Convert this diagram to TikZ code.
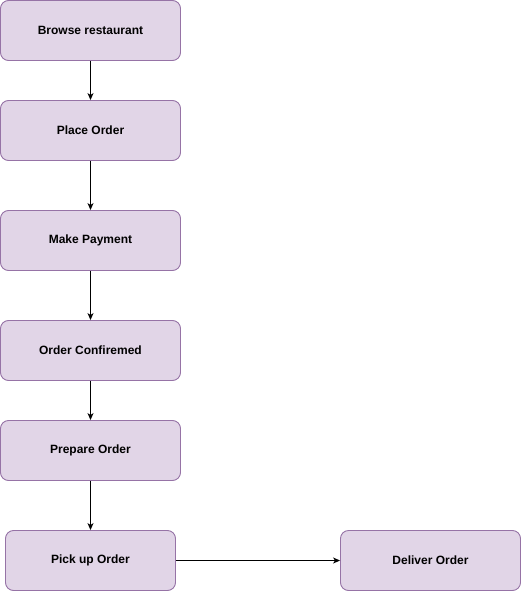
\documentclass[tikz,border=0pt]{standalone}
\usepackage{fontspec}
\setmainfont{Liberation Sans}
\usetikzlibrary{arrows.meta}
\begin{document}
\begin{tikzpicture}[x=1pt,y=-1pt,
  stepbox/.style={draw=boxline,fill=boxfill,line width=0.9pt,rounded corners=8pt,
    minimum height=60pt,inner sep=0pt,font=\bfseries\fontsize{12pt}{14pt}\selectfont},
  flow/.style={draw=black,line width=0.9pt,-{Stealth[length=7pt,width=6pt,inset=2pt]}}]
\definecolor{boxfill}{HTML}{E1D5E7}
\definecolor{boxline}{HTML}{9673A6}
\useasboundingbox (0,0) rectangle (521,591);
\node[stepbox,minimum width=180pt] (browse) at (90.5,30.5) {Browse restaurant};
\node[stepbox,minimum width=180pt] (place) at (90.5,130.5) {Place Order};
\node[stepbox,minimum width=180pt] (pay) at (90.5,240.5) {Make Payment};
\node[stepbox,minimum width=180pt] (confirm) at (90.5,350.5) {Order Confiremed};
\node[stepbox,minimum width=180pt] (prepare) at (90.5,450.5) {Prepare Order};
\node[stepbox,minimum width=170pt] (pickup) at (90.5,560.5) {Pick up Order};
\node[stepbox,minimum width=180pt] (deliver) at (430.5,560.5) {Deliver Order};
\draw[flow] (browse) -- (place);
\draw[flow] (place) -- (pay);
\draw[flow] (pay) -- (confirm);
\draw[flow] (confirm) -- (prepare);
\draw[flow] (prepare) -- (pickup);
\draw[flow] (pickup) -- (deliver);
\end{tikzpicture}
\end{document}
